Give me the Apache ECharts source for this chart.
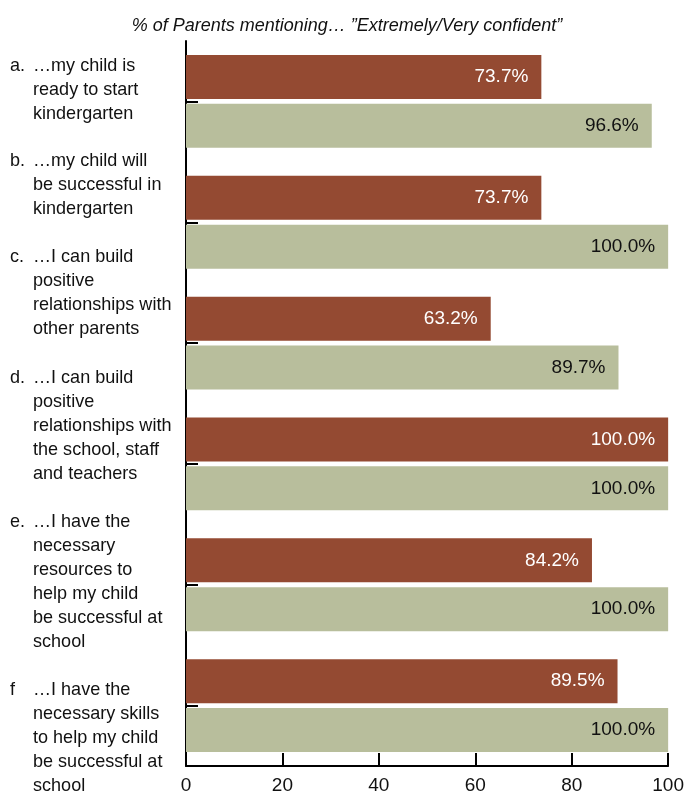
<!DOCTYPE html>
<html>
<head>
<meta charset="utf-8">
<script src="https://cdn.jsdelivr.net/npm/echarts@6/dist/echarts.min.js"></script>
<style>
html,body{margin:0;padding:0;background:#fff;}
#chart{width:687px;height:796px;}
</style>
</head>
<body>
<div id="chart"></div>
<script>
var titleText = '% of Parents mentioning\u2026 \u201DExtremely/Very confident\u201D';
var categoryKeys = ['a.', 'b.', 'c.', 'd.', 'e.', 'f'];
var categoryLines = [
  ['\u2026my child is', 'ready to start', 'kindergarten'],
  ['\u2026my child will', 'be successful in', 'kindergarten'],
  ['\u2026I can build', 'positive', 'relationships with', 'other parents'],
  ['\u2026I can build', 'positive', 'relationships with', 'the school, staff', 'and teachers'],
  ['\u2026I have the', 'necessary', 'resources to', 'help my child', 'be successful at', 'school'],
  ['\u2026I have the', 'necessary skills', 'to help my child', 'be successful at', 'school']
];
var seriesBrown = [73.7, 73.7, 63.2, 100.0, 84.2, 89.5];
var seriesGreen = [96.6, 100.0, 89.7, 100.0, 100.0, 100.0];
var xTicks = [0, 20, 40, 60, 80, 100];

// label layout (top of first line, px)
var labelTops = [54, 149, 245, 366, 510, 678];

var FONT = "'Liberation Sans', Arial, sans-serif";
var categories = categoryKeys.slice();

var graphics = [];
categoryKeys.forEach(function(k, i){
  graphics.push({
    type: 'text', x: 10, y: labelTops[i], scaleX: 0.95,
    style: { text: k, font: '19px ' + FONT, fill: '#111', lineHeight: 24, textVerticalAlign: 'top' }
  });
  graphics.push({
    type: 'text', x: 33, y: labelTops[i], scaleX: 0.95,
    style: { text: categoryLines[i].join('\n'), font: '19px ' + FONT, fill: '#111', lineHeight: 24, textVerticalAlign: 'top' }
  });
});

var chart = echarts.init(document.getElementById('chart'));
chart.setOption({
  animation: false,
  backgroundColor: '#fff',
  title: {
    text: titleText, left: 342, top: 12, textAlign: 'center',
    textStyle: { fontFamily: FONT, fontStyle: 'italic', fontWeight: 'normal', fontSize: 18, color: '#111' }
  },
  grid: { left: 186, right: 16, top: 41, bottom: 30 },
  xAxis: {
    type: 'value', min: 0, max: 100, interval: 20,
    axisLine: { show: true, lineStyle: { color: '#000', width: 2 } },
    axisTick: { show: true, inside: true, length: 13, lineStyle: { color: '#000', width: 2 } },
    splitLine: { show: false },
    axisLabel: {
      margin: 10, fontFamily: FONT, fontSize: 19, color: '#111',
      formatter: function(v){ return xTicks.indexOf(v) >= 0 ? String(v) : ''; }
    }
  },
  yAxis: {
    type: 'category', data: categories, inverse: true,
    axisLine: { show: true, lineStyle: { color: '#000', width: 2 } },
    axisTick: { show: true, inside: true, alignWithLabel: true, length: 12, lineStyle: { color: '#000', width: 2 } },
    axisLabel: { show: false }
  },
  series: [
    {
      type: 'bar', data: seriesBrown, barWidth: 44, barGap: '11%',
      itemStyle: { color: '#944A32' },
      label: {
        show: true, position: 'insideRight', distance: 13,
        color: '#fff', fontFamily: FONT, fontSize: 19,
        formatter: function(p){ return p.value.toFixed(1) + '%'; }
      }
    },
    {
      type: 'bar', data: seriesGreen, barWidth: 44,
      itemStyle: { color: '#B8BE9C' },
      label: {
        show: true, position: 'insideRight', distance: 13,
        color: '#111', fontFamily: FONT, fontSize: 19,
        formatter: function(p){ return p.value.toFixed(1) + '%'; }
      }
    }
  ],
  graphic: graphics
});
</script>
</body>
</html>
